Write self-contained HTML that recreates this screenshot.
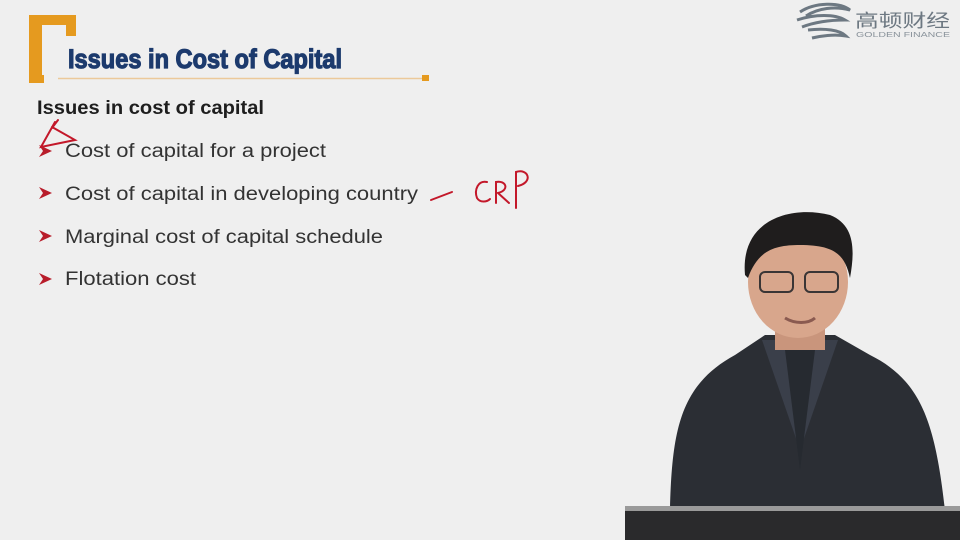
<!DOCTYPE html>
<html><head><meta charset="utf-8"><style>
html,body{margin:0;padding:0;width:960px;height:540px;overflow:hidden;background:#efefef}
svg{display:block}
</style></head><body>
<svg width="960" height="540" viewBox="0 0 960 540" xmlns="http://www.w3.org/2000/svg">
<rect width="960" height="540" fill="#efefef"/>
<g fill="#e59a1f">
<rect x="29" y="15" width="13" height="68"/>
<rect x="29" y="15" width="47" height="10"/>
<rect x="66" y="15" width="10" height="21"/>
<rect x="29" y="75" width="15" height="8"/>
</g>
<text x="68" y="68" font-family="Liberation Sans, sans-serif" font-weight="bold" font-size="27" fill="#1c3a6d" stroke="#1c3a6d" stroke-width="1.2" textLength="274" lengthAdjust="spacingAndGlyphs">Issues in Cost of Capital</text>
<line x1="58" y1="78.5" x2="424" y2="78.5" stroke="#ecc99a" stroke-width="1.5"/>
<rect x="422" y="75" width="7" height="6" fill="#e59a1f"/>
<text x="37" y="114" font-family="Liberation Sans, sans-serif" font-weight="bold" font-size="19" fill="#1e1e1e" textLength="227" lengthAdjust="spacingAndGlyphs">Issues in cost of capital</text>
<g font-family="Liberation Sans, sans-serif" font-size="19" fill="#333">
<text x="65" y="157" textLength="261" lengthAdjust="spacingAndGlyphs">Cost of capital for a project</text>
<text x="65" y="200" textLength="353" lengthAdjust="spacingAndGlyphs">Cost of capital in developing country</text>
<text x="65" y="243" textLength="318" lengthAdjust="spacingAndGlyphs">Marginal cost of capital schedule</text>
<text x="65" y="285" textLength="131" lengthAdjust="spacingAndGlyphs">Flotation cost</text>
</g>
<g fill="#b81c2a">
<path d="M39 145 L52 151 L39 157 L43 151 Z"/>
<path d="M39 187 L52 193 L39 199 L43 193 Z"/>
<path d="M39 230 L52 236 L39 242 L43 236 Z"/>
<path d="M39 273 L52 279 L39 285 L43 279 Z"/>
</g>
<g fill="none" stroke="#c3182a" stroke-width="2" stroke-linecap="round">
<path d="M55 122 L41 147 L75 140 L52 127 M58 120 L52 128"/>
<path d="M431 200 L452 192"/>
<path d="M487 182 C478 180 474 190 477 198 C480 203 487 202 490 199"/>
<path d="M496 203 L496 182 C506 180 510 190 498 193 L509 203"/>
<path d="M516 208 L516 172 C528 168 534 182 518 186"/>
</g>
<g>
<path d="M800 12 C815 2 840 2 850 10 C835 6 818 8 806 16 M797 20 C815 14 835 14 845 20 C830 20 815 22 802 27 M808 30 C825 28 840 30 846 36 C834 34 820 36 812 38" fill="none" stroke="#6d7882" stroke-width="3"/>
<text x="855" y="27" font-family="Liberation Sans, Noto Sans CJK SC, sans-serif" font-size="18" fill="#6d7882" textLength="95" lengthAdjust="spacingAndGlyphs">高顿财经</text>
<text x="856" y="37" font-family="Liberation Sans, sans-serif" font-size="7" fill="#8a939b" textLength="94" lengthAdjust="spacingAndGlyphs">GOLDEN FINANCE</text>
</g>
<g>
<path d="M670 510 C672 430 680 385 735 355 L765 335 L835 335 L870 355 C920 380 935 420 945 510 Z" fill="#2b2e34"/>
<path d="M762 340 L800 450 L838 340 Z" fill="#3a3f4a"/>
<path d="M785 350 L800 470 L815 350 Z" fill="#262a30"/>
<rect x="775" y="310" width="50" height="40" fill="#c9957c"/>
<ellipse cx="798" cy="282" rx="50" ry="56" fill="#d8a68c"/>
<path d="M745 275 C740 220 790 205 830 215 C855 225 855 250 850 278 C845 255 835 245 800 245 C775 245 758 250 748 278 Z" fill="#1f1d1d"/>
<rect x="760" y="272" width="33" height="20" rx="5" fill="none" stroke="#3a3535" stroke-width="2"/>
<rect x="805" y="272" width="33" height="20" rx="5" fill="none" stroke="#3a3535" stroke-width="2"/>
<path d="M785 318 C795 324 808 324 815 318" stroke="#8a5a50" stroke-width="3" fill="none"/>
</g>
<g>
<rect x="625" y="508" width="335" height="32" fill="#2a2a2c"/>
<rect x="625" y="506" width="335" height="5" fill="#9a9a9a"/>
</g>
</svg>
</body></html>
